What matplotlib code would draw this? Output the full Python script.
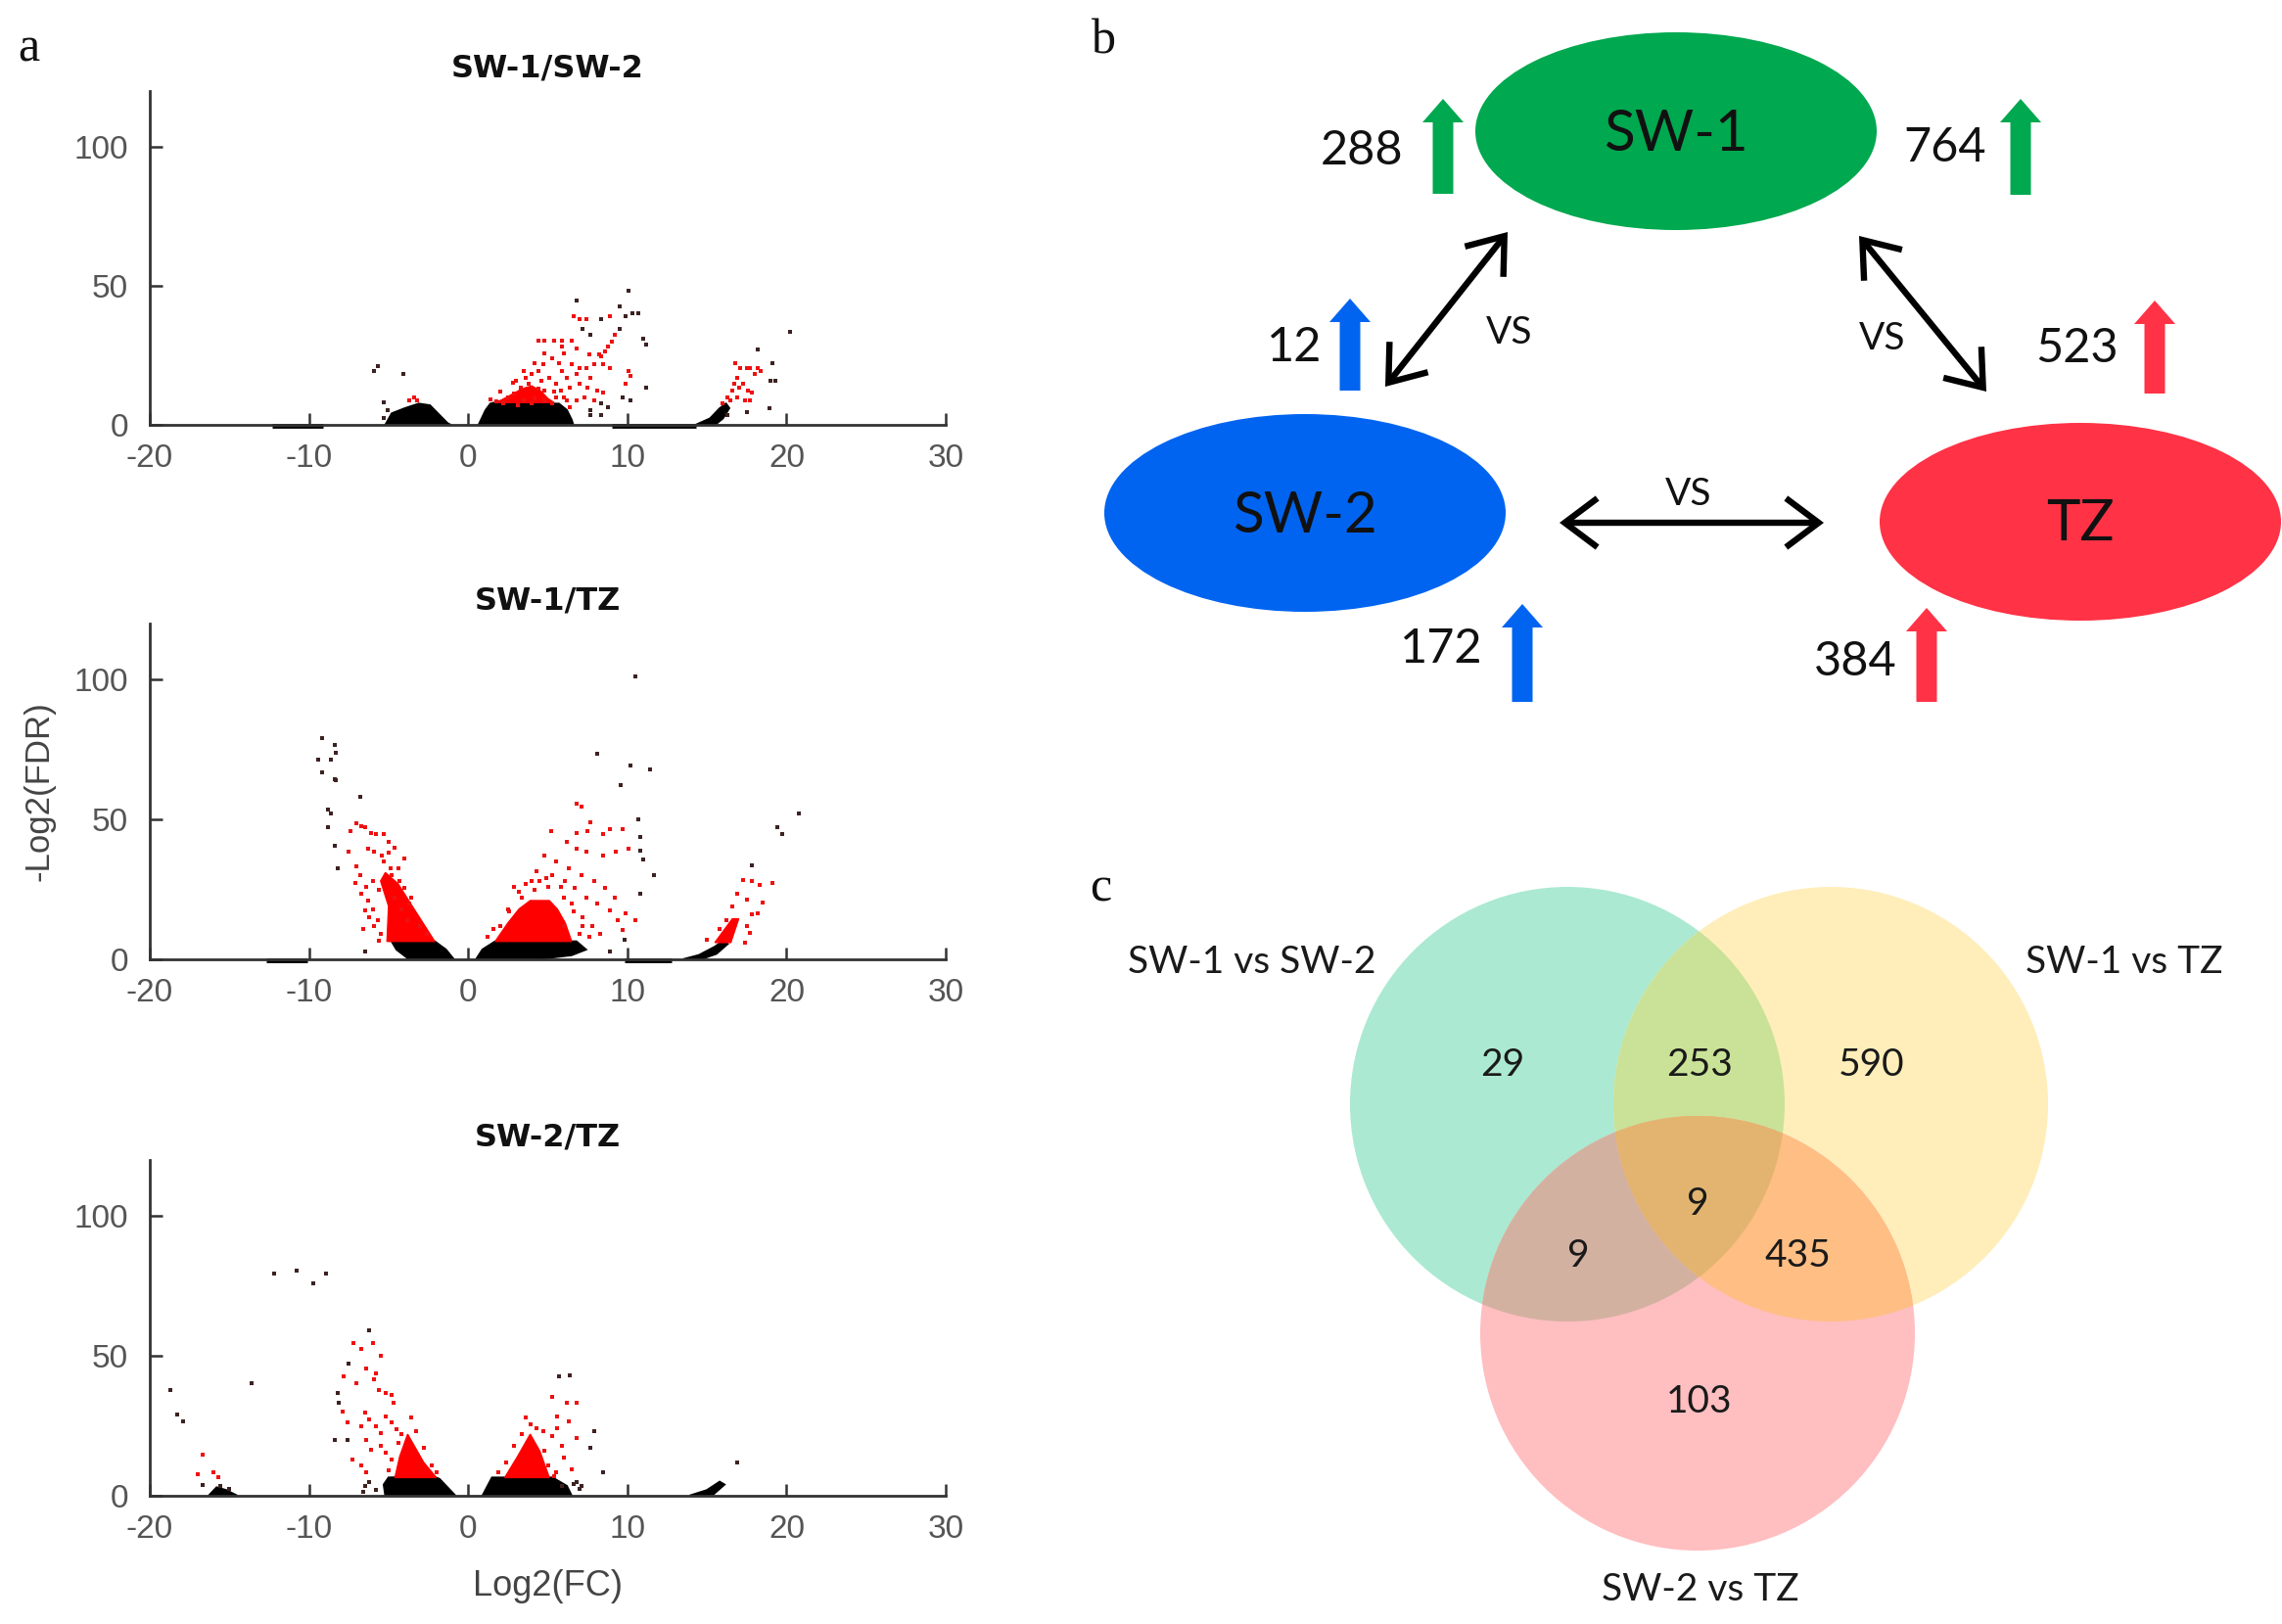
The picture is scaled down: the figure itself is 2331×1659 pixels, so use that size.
import numpy as np
import matplotlib
matplotlib.use("Agg")
import matplotlib.pyplot as plt
from matplotlib.patches import Ellipse, Circle, Polygon

plt.rcParams['axes.unicode_minus'] = False

# ---------------- data: panel a (volcano plots) ----------------
volcano_titles = ['SW-1/SW-2', 'SW-1/TZ', 'SW-2/TZ']
x_ticks = [-20, -10, 0, 10, 20, 30]
y_ticks = [0, 50, 100]

# SW-1/SW-2
top_dark_x = [10.1, 6.8, 9.5, 8.35, 9.9, 10.3, 10.7, 7.2, 7.7, 11.0, 11.2, 9.5, -5.7, -5.9, -4.1, 18.2, 20.2,
              19.1, 19.0, 19.3, 11.2, 9.7, 10.2, 17.5, 18.9, 8.35, 8.8, 7.7, 8.35, 7.7, -5.3, -5.05, -5.3, 16.3]
top_dark_y = [48.1, 44.6, 42.5, 38.1, 39.0, 40.0, 40.0, 34.6, 32.3, 31.1, 29.0, 34.6, 21.1, 19.4, 18.2, 27.0, 33.5,
              22.3, 15.8, 15.8, 13.5, 10.0, 8.8, 4.7, 5.9, 7.6, 6.5, 3.5, 3.5, 5.3, 8.2, 5.3, 2.3, 3.5]
top_red_x = [6.6, 7.0, 7.4, 8.9, 9.2, 4.4, 4.8, 5.4, 5.9, 6.5, 9.0, 8.8, 8.6, 8.35, 5.9, 6.8, 7.6, 8.2, 4.8, 5.3,
             6.0, 4.2, 4.7, 5.7, 6.5, 7.0, 7.4, 7.9, 8.5, 8.9, 3.5, 4.0, 4.4, 5.1, 5.9, 6.2, 6.8, 7.7, 10.1, 10.2,
             9.9, 3.0, 3.3, 3.8, 4.4, 4.8, 5.5, 5.8, 6.4, 7.0, 7.5, 8.1, 8.5, 2.5, 2.9, 3.5, 4.2, 4.8, 5.5, 6.2,
             6.8, 7.3, 7.9, 2.2, 3.1, 4.0, 5.3, 6.4, -3.4, -3.2, -3.7, 16.8, 17.1, 17.5, 17.7, 18.2, 18.0, 18.4,
             16.9, 16.7, 16.6, 17.0, 17.3, 17.6, 17.8, 16.3, 16.5, 16.0, 16.9, 17.4, 17.7,
             1.4, 2.0, 2.8, 3.6, 4.6, 5.4, 6.0, 1.8]
top_red_y = [39.0, 38.1, 38.1, 39.0, 32.3, 30.2, 30.2, 30.2, 30.2, 30.2, 29.9, 28.2, 26.4, 24.6, 28.2, 27.6, 25.2,
             25.5, 25.8, 24.1, 25.8, 22.3, 21.7, 22.3, 21.7, 20.5, 20.5, 21.7, 21.7, 20.5, 19.4, 18.2, 19.4, 17.0,
             19.4, 17.0, 18.2, 17.0, 19.4, 17.6, 14.7, 15.8, 13.5, 14.7, 12.9, 12.3, 14.7, 12.3, 13.5, 14.7, 13.5,
             12.3, 11.7, 10.0, 11.2, 8.8, 9.4, 8.8, 10.0, 8.8, 8.8, 10.0, 8.8, 7.6, 7.0, 7.6, 7.6, 6.5, 10.0, 8.8,
             8.8, 22.3, 20.5, 20.5, 20.5, 20.5, 18.2, 19.4, 17.0, 14.7, 12.3, 13.5, 14.7, 12.3, 11.7, 10.0, 8.8,
             7.6, 10.0, 8.8, 8.8,
             9.0, 12.0, 15.0, 17.0, 16.0, 12.0, 10.0, 8.5]
top_black_polys = [
    ([-5.2, -4.8, -4.0, -3.1, -2.4, -1.8, -1.3, -1.1], [0, 4.1, 5.9, 7.6, 7.0, 3.5, 0.6, 0]),
    ([0.66, 1.1, 1.4, 2.2, 3.7, 4.8, 5.7, 6.2, 6.5, 6.6], [0, 5.3, 7.6, 8.8, 8.2, 7.6, 7.6, 5.3, 1.8, 0]),
    ([14.3, 15.2, 15.8, 16.2, 16.4, 16.0, 15.5], [0, 2.3, 5.9, 7.6, 6.0, 2.3, 0]),
]
top_red_polys = [
    ([1.8, 2.6, 3.4, 4.0, 4.6, 5.0, 5.4], [8.0, 10.5, 13.0, 14.0, 12.0, 9.5, 8.0]),
]
top_bands = [(-12.3, -9.1), (9.0, 14.3)]

# SW-1/TZ
mid_dark_x = [10.5, -9.2, -8.4, -9.4, -8.6, -8.3, -9.2, -8.4, -8.3, -8.8, -8.6, -8.8, -8.4, -8.2, -6.8, 8.1, 10.2,
              11.4, 9.6, 10.7, 10.8, 10.8, 11.0, 11.7, 19.4, 19.7, 20.8, 17.8, 8.9, 9.8, 10.8, -6.5]
mid_dark_y = [101.2, 79.1, 76.7, 71.5, 71.5, 73.8, 66.9, 64.5, 64.0, 53.5, 52.3, 47.1, 40.7, 32.6, 58.1, 73.5, 69.2,
              67.8, 62.2, 50.0, 43.6, 39.0, 35.8, 30.2, 47.1, 44.8, 52.3, 33.7, 2.9, 7.0, 23.3, 2.9]
mid_red_x = [-7.4, -7.0, -6.7, -6.5, -6.1, -5.8, -5.3, -7.5, -7.0, -7.1, -6.7, -6.5, -6.2, -6.3, -5.9, -5.4, -5.3,
             -4.9, -4.8, -4.4, -4.3, -4.0, -3.6, -3.7, -6.0, -5.6, -6.3, -5.9, -5.5, -6.6, -5.0,
             -6.8, -6.4, -6.0, -5.7, -4.6, -4.2, -3.8, -3.0, -2.6, -5.6, -4.0, -4.6, -5.0,
             6.8, 7.1, 7.7, 5.2, 6.8, 7.5, 8.5, 8.9, 9.7, 6.2, 6.8, 7.4, 8.5, 9.3, 10.1, 4.8, 5.5, 6.3, 7.1, 7.9,
             8.6, 9.2, 9.9, 10.5, 4.3, 4.0, 5.3, 6.1, 6.7, 7.4, 8.1, 8.9, 9.4, 9.7, 2.5, 3.2, 5.8, 6.5, 7.2, 7.8,
             8.3, 6.0, 7.0, 4.5, 3.6, 2.0,
             1.2, 1.6, 2.6, 3.4, 4.2, 5.0, 6.0, 6.6, 7.2, 7.6, 2.9, 4.9,
             17.3, 17.8, 18.3, 19.1, 16.9, 17.5, 18.5, 18.2, 17.7, 17.4,
             15.0, 15.8, 16.2, 17.5, 17.8, 16.6]
mid_red_y = [45.9, 48.8, 47.7, 47.1, 45.3, 44.8, 44.8, 38.4, 33.1, 27.3, 23.3, 17.4, 15.1, 39.5, 38.4, 37.2, 34.9,
             32.6, 30.2, 32.6, 27.9, 25.6, 22.1, 19.8, 28.0, 25.0, 21.0, 12.0, 9.0, 11.0, 38.0,
             30.0, 26.0, 18.0, 14.0, 22.0, 18.0, 14.0, 12.0, 9.0, 6.5, 36.0, 40.0, 42.0,
             55.8, 54.7, 49.1, 45.9, 45.3, 45.9, 44.8, 46.7, 46.5, 41.9, 39.5, 38.4, 37.2, 38.4, 39.5, 37.2, 34.9,
             32.6, 30.2, 27.9, 25.6, 22.1, 16.3, 14.0, 31.4, 27.9, 30.2, 27.9, 25.6, 22.1, 19.8, 17.4, 14.0, 10.5,
             18.0, 24.0, 26.0, 20.0, 15.0, 12.0, 9.0, 12.0, 9.0, 28.0, 27.0, 12.0,
             8.0, 11.0, 17.0, 22.0, 25.0, 26.0, 22.0, 17.0, 12.0, 8.0, 26.0, 29.0,
             28.5, 27.9, 26.7, 27.3, 23.3, 21.5, 20.3, 16.3, 9.3, 5.8,
             7.0, 11.0, 14.0, 12.0, 16.0, 19.0]
mid_black_polys = [
    ([-3.7, -4.5, -4.8, -2.1, -1.4, -0.9], [0, 3.5, 6.4, 6.4, 3.5, 0]),
    ([0.5, 0.9, 1.7, 6.8, 7.4, 6.5, 4.3], [0, 3.5, 6.4, 6.4, 3.5, 1.5, 0]),
    ([13.5, 14.5, 15.5, 16.0, 16.3, 15.6, 14.6], [0, 1.5, 4.5, 6.5, 5.5, 2.0, 0]),
]
mid_red_polys = [
    ([-5.1, -5.0, -5.5, -5.2, -4.4, -3.4, -2.1], [6.4, 19.0, 28.0, 31.0, 27.0, 18.0, 6.4]),
    ([1.7, 2.5, 3.2, 3.9, 5.1, 5.6, 6.1, 6.5], [6.4, 13.0, 18.0, 21.0, 21.0, 18.0, 13.0, 6.4]),
    ([15.5, 16.6, 17.0, 16.5], [6.0, 14.5, 14.5, 6.0]),
]
mid_bands = [(-12.7, -10.1), (9.8, 12.8)]

# SW-2/TZ
bot_dark_x = [-12.2, -10.8, -8.9, -9.75, -6.2, -18.7, -18.3, -17.9, -13.6, -16.7, -15.6, -15.0, 5.7, 6.4, 8.5, 7.1,
              5.9, 16.9, 7.9, 7.7, -7.5, -8.2, -8.1, -8.4, -7.6, -6.5, -6.2, -5.8, -6.6, 6.8, 7.0, 6.6]
bot_dark_y = [79.4, 80.3, 79.4, 75.8, 59.2, 37.9, 29.0, 26.7, 40.3, 3.8, 3.6, 2.4, 42.7, 43.2, 8.3, 3.6,
              3.6, 11.8, 23.1, 17.2, 47.4, 36.7, 33.2, 20.1, 19.9, 3.5, 5.0, 2.0, 1.5, 5.0, 2.5, 4.2]
bot_red_x = [-7.2, -6.7, -6.0, -5.5, -7.8, -7.0, -6.4, -5.8, -5.9, -5.6, -5.2, -4.8, -4.7, -7.9, -7.6, -6.5, -6.2,
             -6.7, -5.8, -5.5, -5.2, -4.8, -4.5, -6.4, -6.1, -7.3, -6.7, -6.4, -5.5, -5.2, -16.7, -17.0, -16.0,
             -15.7, -5.0, -4.8, -4.4, -4.2, -3.3, -2.8, -2.3, -2.0, -3.6,
             5.3, 6.2, 6.8, 5.6, 6.3, 5.6, 6.8, 3.9, 4.7, 5.3, 5.9, 6.0, 6.5, 5.4,
             1.9, 2.4, 2.9, 3.4, 4.3, 4.8, 5.0, 5.5, 3.6]
bot_red_y = [54.5, 52.4, 54.5, 50.0, 42.7, 40.3, 45.6, 43.8, 41.5, 37.9, 36.7, 36.1, 33.2, 30.2, 26.1, 29.6, 27.3,
             24.9, 24.9, 22.5, 28.4, 26.1, 23.7, 20.1, 16.6, 13.0, 10.7, 8.3, 17.8, 15.4, 14.8, 7.7, 8.3,
             6.5, 9.0, 13.0, 19.0, 22.0, 23.0, 17.0, 11.0, 8.5, 28.0,
             35.5, 33.2, 33.2, 28.4, 26.7, 24.3, 20.7, 25.5, 23.1, 21.3, 17.8, 13.6, 9.5, 7.1,
             8.5, 12.0, 18.0, 22.0, 24.0, 16.0, 11.0, 8.5, 28.0]
bot_black_polys = [
    ([-5.2, -5.3, -5.0, -2.3, -1.8, -0.8], [0, 4.0, 6.5, 7.0, 6.0, 0]),
    ([0.9, 1.5, 5.3, 6.2, 6.5], [0, 6.5, 6.5, 3.5, 0]),
    ([13.9, 15.0, 15.8, 16.1, 15.4], [0, 2.0, 5.0, 4.0, 0.5]),
    ([-16.3, -15.8, -15.2, -14.5], [0, 3.0, 2.0, 0]),
]
bot_red_polys = [
    ([-4.6, -4.3, -3.8, -3.4, -2.8, -2.0], [6.5, 14.0, 22.0, 18.0, 12.0, 6.5]),
    ([2.3, 3.1, 3.9, 4.5, 5.1], [6.5, 14.0, 22.0, 16.0, 6.5]),
]
bot_bands = []

# ---------------- data: panel b ----------------
node_names = ['SW-1', 'SW-2', 'TZ']
node_colors = ['#00a84f', '#0064f0', '#ff3246']
up_counts = [288, 764, 12, 523, 172, 384]
up_color_idx = [0, 0, 1, 2, 1, 2]
vs_label = 'VS'

# ---------------- data: panel c ----------------
venn_sets = ['SW-1 vs SW-2', 'SW-1 vs TZ', 'SW-2 vs TZ']
# regions: A only, A&B, B only, A&B&C, A&C, B&C, C only
venn_counts = [29, 253, 590, 9, 9, 435, 103]
venn_colors = {'A': '#abe9d2', 'B': '#ffeeba', 'C': '#ffbec0',
               'AB': '#c9e298', 'AC': '#d3b1a0', 'BC': '#ffbe84', 'ABC': '#e3b470'}

W, H = 2331, 1659
fig = plt.figure(figsize=(W / 100, H / 100), dpi=100)

# overlay axes in pixel units for panels b and c
ov = fig.add_axes([0, 0, 1, 1])
ov.set_xlim(0, W)
ov.set_ylim(H, 0)
ov.axis('off')


def px_axes(x0, y0, x1, y1):
    return fig.add_axes([x0 / W, 1 - y1 / H, (x1 - x0) / W, (y1 - y0) / H])


def draw_volcano(ax, title, black_polys, red_polys, bands, red_x, red_y, dark_x, dark_y):
    for x0, x1 in bands:
        ax.plot([x0, x1], [-0.5, -0.5], color='black', lw=3.5, solid_capstyle='butt', clip_on=False, zorder=2)
    for xs, ys in black_polys:
        ax.fill(xs, ys, color='black', lw=1.5, zorder=2, clip_on=False)
    for xs, ys in red_polys:
        ax.fill(xs, ys, color='#ff0000', lw=1.0, zorder=3)
    ax.plot(red_x, red_y, 's', ms=2.8, mew=0, color='#ee1111', zorder=4)
    ax.plot(dark_x, dark_y, 's', ms=2.8, mew=0, color='#3d2222', zorder=4)

    ax.set_xlim(-20, 30)
    ax.set_ylim(0, 120)
    ax.set_xticks(x_ticks)
    ax.set_yticks(y_ticks)
    for s in ['top', 'right']:
        ax.spines[s].set_visible(False)
    for s in ['left', 'bottom']:
        ax.spines[s].set_color('#333333')
        ax.spines[s].set_linewidth(2.0)
    ax.tick_params(direction='in', length=9, width=1.8, color='#333333', labelcolor='#555555',
                   labelsize=24)
    ax.tick_params(axis='x', pad=14)
    ax.tick_params(axis='y', pad=16)
    for lab in ax.get_xticklabels() + ax.get_yticklabels():
        lab.set_fontfamily('Liberation Sans')
    ax.patch.set_alpha(0)
    ax.text(0.5, 1.068, title, transform=ax.transAxes, ha='center', va='center',
            fontsize=23, fontweight='bold', family='DejaVu Sans', color='#111111')


ax1 = px_axes(153, 93, 966, 434)
draw_volcano(ax1, volcano_titles[0], top_black_polys, top_red_polys, top_bands,
             top_red_x, top_red_y, top_dark_x, top_dark_y)
ax2 = px_axes(153, 637, 966, 980)
draw_volcano(ax2, volcano_titles[1], mid_black_polys, mid_red_polys, mid_bands,
             mid_red_x, mid_red_y, mid_dark_x, mid_dark_y)
ax3 = px_axes(153, 1185, 966, 1528)
draw_volcano(ax3, volcano_titles[2], bot_black_polys, bot_red_polys, bot_bands,
             bot_red_x, bot_red_y, bot_dark_x, bot_dark_y)

ov.text(40, 808, '-Log2(FDR)', rotation=90, ha='center', va='center', fontsize=25,
        family='Liberation Sans', color='#444444')
ov.text(560, 1621, 'Log2(FC)', ha='center', va='center', fontsize=26,
        family='Liberation Sans', color='#444444')

# panel letters
for letter, (lx, ly) in zip('abc', [(29, 50), (1127, 42), (1124, 908)]):
    ov.text(lx, ly, letter, ha='center', va='center', fontsize=36, family='Liberation Serif', color='#111111')

# ---------------- panel b ----------------
sans = 'Lato'
node_xy = [(1712, 134), (1333, 524), (2125, 533)]
for name, col, (cx, cy) in zip(node_names, node_colors, node_xy):
    ov.add_patch(Ellipse((cx, cy), 410, 202, facecolor=col, edgecolor='none', zorder=2))
    ov.text(cx, cy + 3, name, ha='center', va='center', fontsize=42, family=sans, color='#111111', zorder=3)

num_xy = [(1391, 154), (1987, 151), (1322, 355), (2122, 356), (1472, 663), (1895, 676)]
arrow_geom = [(1474, 101, 198), (2064, 101, 199), (1379, 305, 399), (2201, 307, 402),
              (1555, 617, 717), (1968, 621, 717)]
for cnt, ci, (nx, ny), (axx, ytop, ybot) in zip(up_counts, up_color_idx, num_xy, arrow_geom):
    ov.text(nx, ny, str(cnt), ha='center', va='center', fontsize=35, family=sans, color='#111111')
    ov.arrow(axx, ybot, 0, ytop - ybot, width=21, head_width=42, head_length=24,
             length_includes_head=True, color=node_colors[ci], lw=0, zorder=3)

vs_arrows = [((1540, 237), (1415, 395)), ((1899, 241), (2029, 400)), ((1593, 534), (1863, 534))]
vs_xy = [(1542, 340), (1923, 346), (1725, 505)]
for (p1, p2), (vx, vy) in zip(vs_arrows, vs_xy):
    ov.annotate('', xy=p1, xytext=p2,
                arrowprops=dict(arrowstyle='<->,head_length=0.6,head_width=0.45', lw=4.6,
                                color='black', shrinkA=0, shrinkB=0, mutation_scale=40,
                                joinstyle='miter', capstyle='butt'))
    ov.text(vx, vy, vs_label, ha='center', va='center', fontsize=28, family=sans, color='#111111')

# ---------------- panel c ----------------
R = 222
cA, cB, cC = np.array([1601, 1128]), np.array([1870, 1128]), np.array([1734, 1362])


def circle(c, col, z, clip=None):
    p = Circle(tuple(c), R, facecolor=col, edgecolor='none', zorder=z)
    ov.add_patch(p)
    if clip is not None:
        p.set_clip_path(Circle(tuple(clip), R, transform=ov.transData))
    return p


circle(cA, venn_colors['A'], 1)
circle(cB, venn_colors['B'], 1)
circle(cC, venn_colors['C'], 1)
circle(cA, venn_colors['AB'], 2, clip=cB)
circle(cA, venn_colors['AC'], 2, clip=cC)
circle(cB, venn_colors['BC'], 2, clip=cC)

# lens A&B, clipped by C -> triple region
t = np.linspace(0, 2 * np.pi, 1441)
ring = np.column_stack([np.cos(t), np.sin(t)]) * R
pa = cA + ring
pb = cB + ring
pa = pa[np.hypot(*(pa - cB).T) <= R]
pb = pb[np.hypot(*(pb - cA).T) <= R]
lens = np.vstack([pa, pb])
mid = lens.mean(axis=0)
lens = lens[np.argsort(np.arctan2(lens[:, 1] - mid[1], lens[:, 0] - mid[0]))]
tri = Polygon(lens, closed=True, facecolor=venn_colors['ABC'], edgecolor='none', zorder=3)
ov.add_patch(tri)
tri.set_clip_path(Circle(tuple(cC), R, transform=ov.transData))

count_xy = [(1535, 1088), (1736, 1088), (1912, 1088), (1734, 1230), (1612, 1283), (1836, 1283), (1736, 1432)]
for cnt, (tx, ty) in zip(venn_counts, count_xy):
    ov.text(tx, ty, str(cnt), ha='center', va='center', fontsize=28, family=sans, color='#1a1a1a', zorder=5)

set_xy = [(1279, 983), (2170, 983), (1737, 1624)]
for name, (tx, ty) in zip(venn_sets, set_xy):
    ov.text(tx, ty, name, ha='center', va='center', fontsize=28, family=sans, color='#1a1a1a')

fig.savefig('out.png', dpi=100)
